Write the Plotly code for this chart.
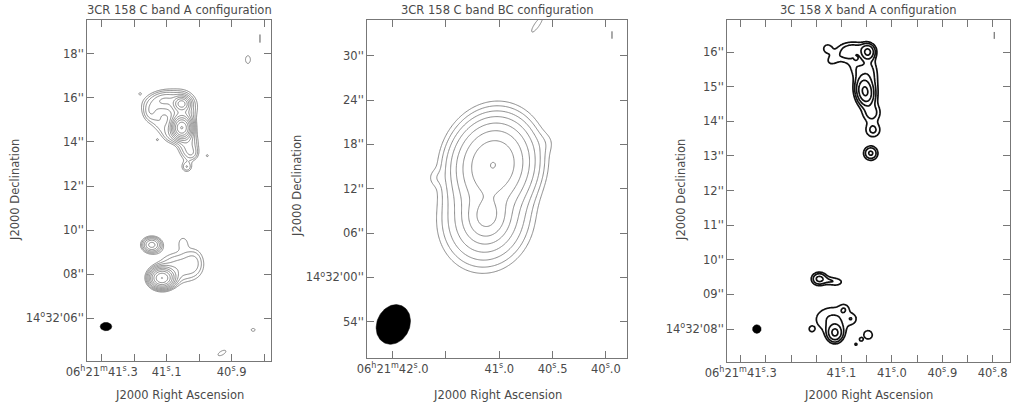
import numpy as np
import plotly.graph_objects as go

W, H = 1014, 407
DEC_DEG = 14.536
K = 15.0 * np.cos(np.radians(DEC_DEG))  # arcsec per RA second

FONT = "DejaVu Sans"
TXT = "#4a4a4a"
AXC = "#777777"

# ---------------- Panel 1 : C band A configuration ----------------
P1_TITLE = "3CR 158 C band A configuration"
P1_RA = [41.0538, 41.0538, 41.0500, 41.090, 41.111, 41.151, 41.118, 41.092, 41.034, 41.022, 41.0385,
         41.182, 41.129, 40.975,
         41.146, 41.115, 41.062, 41.015, 41.050,
         40.850, 40.834, 40.930]
P1_DEC = [14.64, 15.74, 15.20, 15.65, 15.92, 15.38, 14.79, 14.24, 13.88, 13.47, 12.86,
          16.19, 14.10, 13.38,
          9.33, 7.82, 8.30, 8.60, 9.45,
          17.74, 5.47, 4.42]
P1_AMP = [30, 10, 3.5, 2.2, 2.5, 1.4, 1.4, 1.3, 3, 1.3, 1.8,
          1.1, 1.1, 1.2,
          6.5, 22, 2.4, 1.3, 1.15,
          1.1, 1.1, 1.1]
P1_SMAJ = [0.27, 0.20, 0.55, 0.80, 0.45, 0.28, 0.45, 0.30, 0.45, 0.20, 0.17,
           0.06, 0.06, 0.07,
           0.26, 0.30, 0.65, 0.45, 0.25,
           0.40, 0.20, 0.45]
P1_SMIN = [0.23, 0.18, 0.32, 0.45, 0.25, 0.20, 0.28, 0.22, 0.30, 0.20, 0.17,
           0.06, 0.06, 0.07,
           0.21, 0.25, 0.50, 0.30, 0.20,
           0.25, 0.15, 0.20]
P1_PA = [0, 90, 0, 85, 80, 0, -45, -45, 0, 0, 0,
         0, 0, 0,
         90, 90, 90, 0, 0,
         0, 90, 60]
P1_XRANGE = [41.3443, 40.780]
P1_YRANGE = [4.07, 19.56]
P1_XTICKS = [41.3, 41.2, 41.1, 41.0, 40.9, 40.8]
P1_XLABELS = ["06<sup>h</sup>21<sup>m</sup>41<sup>s</sup>.3", "", "41<sup>s</sup>.1", "", "40<sup>s</sup>.9", ""]
P1_YTICKS = [6, 8, 10, 12, 14, 16, 18]
P1_YLABELS = ["14<sup>o</sup>32'06''", "08''", "10''", "12''", "14''", "16''", "18''"]
P1_BEAM = dict(ra=41.2868, dec=5.62, maj=0.52, mn=0.38, pa=90)
P1_MARK_RA = [40.813, 40.813]
P1_MARK_DEC = [18.51, 18.88]

# ---------------- Panel 2 : C band BC configuration ----------------
P2_TITLE = "3CR 158 C band BC configuration"
P2_RA = [41.059, 41.118, 41.125, 41.594, 40.571, 40.646]
P2_DEC = [15.24, 8.30, 8.00, 13.48, 18.22, 34.2]
P2_AMP = [1.0, 0.45, 0.2, 0.008, 0.006, 0.012]
P2_SMAJ = [2.8, 1.6, 2.95, 0.8, 1.0, 1.3]
P2_SMIN = [2.4, 1.4, 2.6, 0.8, 1.0, 0.35]
P2_PA = [17, 8, 15, 0, 0, 35]
P2_XRANGE = [42.238, 39.805]
P2_YRANGE = [-10.87, 34.9]
P2_XTICKS = [42.0, 41.5, 41.0, 40.5, 40.0]
P2_XLABELS = ["06<sup>h</sup>21<sup>m</sup>42<sup>s</sup>.0", "", "41<sup>s</sup>.0", "40<sup>s</sup>.5", "40<sup>s</sup>.0"]
P2_YTICKS = [-6, 0, 6, 12, 18, 24, 30]
P2_YLABELS = ["54''", "14<sup>o</sup>32'00''", "06''", "12''", "18''", "24''", "30''"]
P2_BEAM = dict(ra=41.994, dec=-6.37, maj=5.55, mn=4.46, pa=25)
P2_MARK_RA = [39.943, 39.943]
P2_MARK_DEC = [32.3, 33.3]

# ---------------- Panel 3 : X band A configuration ----------------
P3_TITLE = "3C 158 X band A configuration"
P3_RA = [41.0534, 41.048, 41.050, 41.090, 41.118, 41.068, 41.045, 41.040, 41.0376, 41.042, 41.128, 41.071, 41.072,
         41.144, 41.125, 41.110, 41.113, 41.117, 41.095, 41.080, 41.159, 41.047, 41.0613, 41.0714]
P3_DEC = [14.86, 16.00, 14.95, 15.97, 15.77, 15.50, 15.43, 14.24, 13.75, 13.08, 16.10, 15.82, 16.14,
          9.45, 9.40, 9.36, 7.89, 8.28, 8.58, 8.30, 8.00, 7.83, 7.70, 7.56]
P3_AMP = [17, 9, 1.6, 2.3, 1.3, 1.5, 2.0, 2.5, 2.3, 4.5, 1.5, 1.5, 1.3,
          5, 1.3, 1.5, 9, 2.2, 1.3, 1.2, 1.6, 1.2, 1.3, 1.3]
P3_SMAJ = [0.21, 0.13, 0.45, 0.28, 0.12, 0.30, 0.30, 0.17, 0.15, 0.12, 0.11, 0.035, 0.28,
           0.13, 0.12, 0.15, 0.15, 0.38, 0.10, 0.10, 0.06, 0.19, 0.035, 0.035]
P3_SMIN = [0.13, 0.12, 0.24, 0.17, 0.09, 0.15, 0.15, 0.16, 0.15, 0.12, 0.11, 0.035, 0.11,
           0.11, 0.08, 0.09, 0.13, 0.27, 0.10, 0.10, 0.06, 0.19, 0.035, 0.035]
P3_PA = [-10, 0, -5, 75, 60, 150, 0, 0, 0, 0, 0, 0, 90,
         90, 90, 90, 0, 90, 0, 0, 0, 0, 0, 0]
P3_XRANGE = [41.3266, 40.7657]
P3_YRANGE = [7.04, 16.94]
P3_XTICKS = [41.30, 41.25, 41.20, 41.15, 41.10, 41.05, 41.00, 40.95, 40.90, 40.85, 40.80]
P3_XLABELS = ["06<sup>h</sup>21<sup>m</sup>41<sup>s</sup>.3", "", "", "", "41<sup>s</sup>.1", "",
              "41<sup>s</sup>.0", "", "40<sup>s</sup>.9", "", "40<sup>s</sup>.8"]
P3_YTICKS = [8, 9, 10, 11, 12, 13, 14, 15, 16]
P3_YLABELS = ["14<sup>o</sup>32'08''", "09''", "10''", "11''", "12''", "13''", "14''", "15''", "16''"]
P3_BEAM = dict(ra=41.268, dec=8.0, maj=0.25, mn=0.25, pa=0)
P3_MARK_RA = [40.797, 40.797]
P3_MARK_DEC = [16.38, 16.58]

# Boxes in pixels (left, top, right, bottom)
BOX1 = (87.3, 19.5, 270.7, 360.7)
BOX2 = (367.3, 19.5, 626.7, 357.7)
BOX3 = (727.3, 19.5, 1010.0, 362.3)


def model_image(xr, yr, step, ra, dec, amp, smaj, smin, pa):
    ra_ref = xr[0]
    wid = (xr[0] - xr[1]) * K
    nx = int(wid / step) + 1
    ny = int((yr[1] - yr[0]) / step) + 1
    xo = np.linspace(0, wid, nx)          # arcsec west of left edge
    yy = np.linspace(yr[0], yr[1], ny)
    X, Y = np.meshgrid(xo, yy)
    img = np.zeros_like(X)
    for r, d, a, s1, s2, p in zip(ra, dec, amp, smaj, smin, pa):
        dx = X - (ra_ref - r) * K
        dy = Y - d
        t = np.radians(p)
        u = dx * np.sin(t) + dy * np.cos(t)
        v = dx * np.cos(t) - dy * np.sin(t)
        img += a * np.exp(-0.5 * (u ** 2 / s1 ** 2 + v ** 2 / s2 ** 2))
    ra_axis = ra_ref - xo / K
    z = np.round(np.log2(img + 1e-9), 3)
    return ra_axis, yy, z


def beam_xy(b):
    t = np.linspace(0, 2 * np.pi, 90)
    u = b["maj"] / 2 * np.cos(t)
    v = b["mn"] / 2 * np.sin(t)
    th = np.radians(b["pa"])
    dx = u * np.sin(th) + v * np.cos(th)
    dy = u * np.cos(th) - v * np.sin(th)
    return b["ra"] - dx / K, b["dec"] + dy


fig = go.Figure()

panels = [
    dict(n="", box=BOX1, xr=P1_XRANGE, yr=P1_YRANGE, step=0.035,
         comps=(P1_RA, P1_DEC, P1_AMP, P1_SMAJ, P1_SMIN, P1_PA),
         levels=(0, 5.6, 0.5), lc="#858585", lw=1.0, beam=P1_BEAM,
         mark=(P1_MARK_RA, P1_MARK_DEC), title=P1_TITLE,
         xt=(P1_XTICKS, P1_XLABELS), yt=(P1_YTICKS, P1_YLABELS), ytx=15, yty=190),
    dict(n="2", box=BOX2, xr=P2_XRANGE, yr=P2_YRANGE, step=0.12,
         comps=(P2_RA, P2_DEC, P2_AMP, P2_SMAJ, P2_SMIN, P2_PA),
         levels=(-7, 0.05, 1.0), lc="#858585", lw=1.0, beam=P2_BEAM,
         mark=(P2_MARK_RA, P2_MARK_DEC), title=P2_TITLE,
         xt=(P2_XTICKS, P2_XLABELS), yt=(P2_YTICKS, P2_YLABELS), ytx=297, yty=186),
    dict(n="3", box=BOX3, xr=P3_XRANGE, yr=P3_YRANGE, step=0.022,
         comps=(P3_RA, P3_DEC, P3_AMP, P3_SMAJ, P3_SMIN, P3_PA),
         levels=(0, 4.05, 1.0), lc="#111111", lw=1.7, beam=P3_BEAM,
         mark=(P3_MARK_RA, P3_MARK_DEC), title=P3_TITLE,
         xt=(P3_XTICKS, P3_XLABELS), yt=(P3_YTICKS, P3_YLABELS), ytx=681, yty=190),
]

annotations = []
layout = {}
for p in panels:
    xa = "x" + p["n"]
    ya = "y" + p["n"]
    rx, ry, z = model_image(p["xr"], p["yr"], p["step"], *p["comps"])
    s, e, sz = p["levels"]
    fig.add_trace(go.Contour(
        x=rx, y=ry, z=z, xaxis=xa, yaxis=ya, showscale=False, hoverinfo="skip",
        autocontour=False, contours=dict(start=s, end=e, size=sz, coloring="none"),
        line=dict(color=p["lc"], width=p["lw"], smoothing=1.0)))
    bx, by = beam_xy(p["beam"])
    fig.add_trace(go.Scatter(x=bx, y=by, xaxis=xa, yaxis=ya, mode="lines", fill="toself",
                             fillcolor="black", line=dict(color="black", width=0.5),
                             hoverinfo="skip", showlegend=False))
    fig.add_trace(go.Scatter(x=p["mark"][0], y=p["mark"][1], xaxis=xa, yaxis=ya, mode="lines",
                             line=dict(color="#555555", width=1), hoverinfo="skip", showlegend=False))
    l, t, r, b = p["box"]
    common = dict(showgrid=False, zeroline=False, showline=True, linecolor=AXC, linewidth=1,
                  mirror="ticks", ticks="inside", ticklen=7, tickwidth=1, tickcolor=AXC,
                  tickfont=dict(family=FONT, size=11.5, color=TXT), fixedrange=True,
                  automargin=False)
    layout["xaxis" + p["n"]] = dict(domain=[l / W, r / W], range=p["xr"], anchor=ya,
                                    tickmode="array", tickvals=p["xt"][0], ticktext=p["xt"][1],
                                    **common)
    layout["yaxis" + p["n"]] = dict(domain=[1 - b / H, 1 - t / H], range=p["yr"], anchor=xa,
                                    tickmode="array", tickvals=p["yt"][0], ticktext=p["yt"][1],
                                    **common)
    cx = (l + r) / 2 / W
    annotations.append(dict(text=p["title"], x=cx, y=1 - 10 / H, xref="paper", yref="paper",
                            showarrow=False, xanchor="center", yanchor="middle",
                            font=dict(family=FONT, size=11.5, color=TXT)))
    annotations.append(dict(text="J2000 Right Ascension", x=cx, y=1 - 395 / H, xref="paper",
                            yref="paper", showarrow=False, xanchor="center", yanchor="middle",
                            font=dict(family=FONT, size=11.5, color=TXT)))
    annotations.append(dict(text="J2000 Declination", x=p["ytx"] / W, y=1 - p["yty"] / H,
                            xref="paper", yref="paper", showarrow=False, textangle=-90,
                            xanchor="center", yanchor="middle",
                            font=dict(family=FONT, size=11.5, color=TXT)))

fig.update_layout(width=W, height=H, margin=dict(l=0, r=0, t=0, b=0, autoexpand=False),
                  paper_bgcolor="white", plot_bgcolor="white", showlegend=False,
                  annotations=annotations, **layout)

fig.write_html("out.html")
